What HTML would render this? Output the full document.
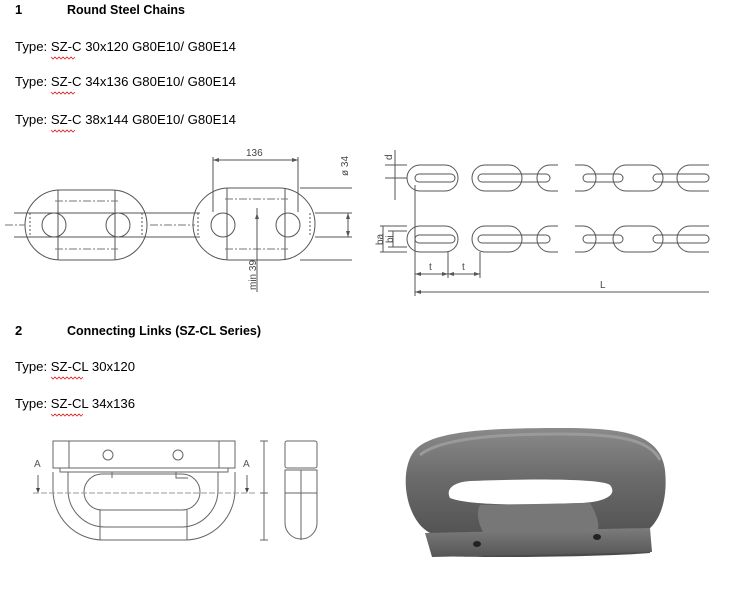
<!DOCTYPE html>
<html><head><meta charset="utf-8"><style>
html,body{margin:0;padding:0;background:#fff;}
svg{display:block;}
text{font-family:"Liberation Sans",Arial,sans-serif;}
</style></head><body>
<svg width="731" height="605" viewBox="0 0 731 605" xmlns="http://www.w3.org/2000/svg">
<defs>
<linearGradient id="mg" x1="0" y1="0" x2="0" y2="1">
<stop offset="0" stop-color="#8a8a8a"/><stop offset="0.4" stop-color="#6a6a6a"/><stop offset="1" stop-color="#4a4a4a"/>
</linearGradient>
<linearGradient id="bg2" x1="0" y1="0" x2="0" y2="1">
<stop offset="0" stop-color="#7c7c7c"/><stop offset="1" stop-color="#555"/>
</linearGradient>
</defs>
<!-- text -->
<g font-size="13" fill="#000">
<text x="15" y="14" font-weight="bold">1</text>
<text x="67" y="14" font-weight="bold" textLength="118" lengthAdjust="spacingAndGlyphs">Round Steel Chains</text>
<text x="15" y="51" textLength="221" lengthAdjust="spacingAndGlyphs">Type: SZ-C 30x120  G80E10/ G80E14</text>
<text x="15" y="86" textLength="221" lengthAdjust="spacingAndGlyphs">Type: SZ-C 34x136  G80E10/ G80E14</text>
<text x="15" y="124" textLength="221" lengthAdjust="spacingAndGlyphs">Type: SZ-C 38x144  G80E10/ G80E14</text>
<text x="15" y="335" font-weight="bold">2</text>
<text x="67" y="335" font-weight="bold" textLength="194" lengthAdjust="spacingAndGlyphs">Connecting Links (SZ-CL Series)</text>
<text x="15" y="371" textLength="120" lengthAdjust="spacingAndGlyphs">Type: SZ-CL 30x120</text>
<text x="15" y="408" textLength="120" lengthAdjust="spacingAndGlyphs">Type: SZ-CL 34x136</text>
</g>
<g fill="none" stroke="#d22" stroke-width="0.8">
<path d="M51,57 l2,2 2,-2 2,2 2,-2 2,2 2,-2 2,2 2,-2 2,2 2,-2 2,2 2,-2"/>
<path d="M51,92 l2,2 2,-2 2,2 2,-2 2,2 2,-2 2,2 2,-2 2,2 2,-2 2,2 2,-2"/>
<path d="M51,130 l2,2 2,-2 2,2 2,-2 2,2 2,-2 2,2 2,-2 2,2 2,-2 2,2 2,-2"/>
<path d="M51,377 l2,2 2,-2 2,2 2,-2 2,2 2,-2 2,2 2,-2 2,2 2,-2 2,2 2,-2 2,2 2,-2 2,2 2,-2"/>
<path d="M51,414 l2,2 2,-2 2,2 2,-2 2,2 2,-2 2,2 2,-2 2,2 2,-2 2,2 2,-2 2,2 2,-2 2,2 2,-2"/>
</g>
<!-- left chain drawing -->
<g fill="none" stroke="#555" stroke-width="1">
<rect x="25" y="190" width="122" height="70" rx="35"/>
<rect x="193" y="188" width="122" height="72" rx="36"/>
<path d="M14,213 H200 M14,237 H200"/>
<path d="M315,213 H352 M315,237 H352 M300,188 H352 M300,260 H352"/>
<path d="M58,190 V260 M115,190 V260 M227,188 V260 M285,188 V260"/>
<circle cx="54" cy="225" r="12"/><circle cx="118" cy="225" r="12"/>
<circle cx="223" cy="225" r="12"/><circle cx="288" cy="225" r="12"/>
<path d="M30,213 V237 M142,213 V237 M198,213 V237 M310,213 V237" stroke-dasharray="2,2"/>
<path d="M55,201 H118 M55,249 H118 M225,199 H288 M225,249 H288 M150,225 H195 M5,225 H25" stroke-dasharray="8,2,2,2" stroke="#777"/>
<path d="M213,157 V212 M298,157 V212"/>
<path d="M213,160 H298"/>
<path d="M348,213 V237 M257,208 V292"/>
</g>
<g fill="#555">
<path d="M213,160 l6,-2 v4z M298,160 l-6,-2 v4z M348,213 l-2,6 h4z M348,237 l-2,-6 h4z M257,213 l-2,6 h4z"/>
</g>
<g font-size="10" fill="#444">
<text x="246" y="156">136</text>
<text transform="translate(348,176) rotate(-90)">ø 34</text>
<text transform="translate(256,290) rotate(-90)">min 39</text>
</g>
<!-- right chain drawing -->
<g fill="none" stroke="#555" stroke-width="1">
<g id="row">
<rect x="407" y="165" width="51" height="26" rx="13"/>
<rect x="472" y="165" width="50" height="26" rx="13"/>
<path d="M558,165 H550 A13,13 0 0 0 550,191 H558"/>
<path d="M575,165 H583 A13,13 0 0 1 583,191 H575"/>
<rect x="613" y="165" width="50" height="26" rx="13"/>
<path d="M709,165 H690 A13,13 0 0 0 690,191 H709"/>
<rect x="415" y="174" width="40" height="8" rx="4"/>
<rect x="478" y="174" width="72" height="8" rx="4"/>
<rect x="583" y="174" width="40" height="8" rx="4"/>
<rect x="653" y="174" width="56" height="8" rx="4"/>
</g>
<use href="#row" y="61"/>
<path d="M395,150 V200 M385,165 H407 M385,178 H407 M380,226 H407 M380,252 H407 M388,231 H407 M388,247 H407"/>
<path d="M383,226 V252 M393,231 V247"/>
<path d="M415,185 V296 M448,252 V278 M480,252 V278 M415,274 H480 M415,292 H709"/>
</g>
<g fill="#555">
<path d="M415,274 l6,-2 v4z M448,274 l-6,-2 v4z M448,274 l6,-2 v4z M480,274 l-6,-2 v4z M415,292 l6,-2 v4z"/>
</g>
<g font-size="10" fill="#444">
<text transform="translate(392,160) rotate(-90)">d</text>
<text transform="translate(383,245) rotate(-90)">ba</text>
<text transform="translate(393,243) rotate(-90)">bi</text>
<text x="429" y="270">t</text><text x="462" y="270">t</text>
<text x="600" y="288">L</text>
</g>
<!-- connecting link drawing -->
<g fill="none" stroke="#666" stroke-width="1">
<rect x="53" y="441" width="182" height="27"/>
<path d="M69,441 V468 M219,441 V468"/>
<circle cx="108" cy="455" r="5"/><circle cx="178" cy="455" r="5"/>
<rect x="60" y="468" width="168" height="4"/>
<path d="M53,472 V490 A50,50 0 0 0 103,540 H185 A50,50 0 0 0 235,490 V472"/>
<path d="M68,472 V490 A37,37 0 0 0 105,527 H183 A37,37 0 0 0 218,490 V472"/>
<rect x="84" y="474" width="116" height="36" rx="18"/>
<path d="M100,510 V540 M187,510 V540 M100,472 H112 V478 M176,472 V478 H188"/>
<path d="M33,493 H255" stroke-dasharray="6,2" stroke="#999"/>
<path d="M38,475 V491 M247,475 V491"/>
<path d="M264,441 V540 M260,441 H268 M260,493 H268 M260,540 H268"/>
<rect x="285" y="441" width="32" height="27" rx="2"/>
<path d="M285,470 H317 V523 A16,16 0 0 1 285,523 Z"/>
<path d="M301,470 V540 M285,493 H317"/>
</g>
<g fill="#444"><path d="M38,493 l-2,-5 h4z M247,493 l-2,-5 h4z"/></g>
<g font-size="10" fill="#555">
<text x="34" y="467">A</text><text x="243" y="467">A</text>
</g>
<!-- photo -->
<g>
<path d="M430,533 C405,520 398,470 415,450 C432,432 480,428 560,428 C620,428 660,432 665,470 C668,500 660,520 648,530 L650,553 C600,557 480,558 432,556 Z" fill="url(#mg)"/>
<path d="M450,498 C445,488 455,482 470,481 C520,479 600,478 610,485 C618,495 605,502 580,503 C530,505 470,506 450,498 Z" fill="#fff"/>
<path d="M480,505 L590,503 C600,520 600,530 595,533 L485,535 C478,525 476,512 480,505 Z" fill="#777"/>
<path d="M425,533 L650,528 L652,552 L432,557 Z" fill="url(#bg2)"/>
<ellipse cx="477" cy="544" rx="4" ry="3" fill="#222"/>
<ellipse cx="597" cy="537" rx="4" ry="3" fill="#222"/>
<path d="M420,455 C440,438 500,434 560,434 C620,434 650,440 660,460" stroke="#9a9a9a" stroke-width="3" fill="none"/>
</g>
</svg>
</body></html>
